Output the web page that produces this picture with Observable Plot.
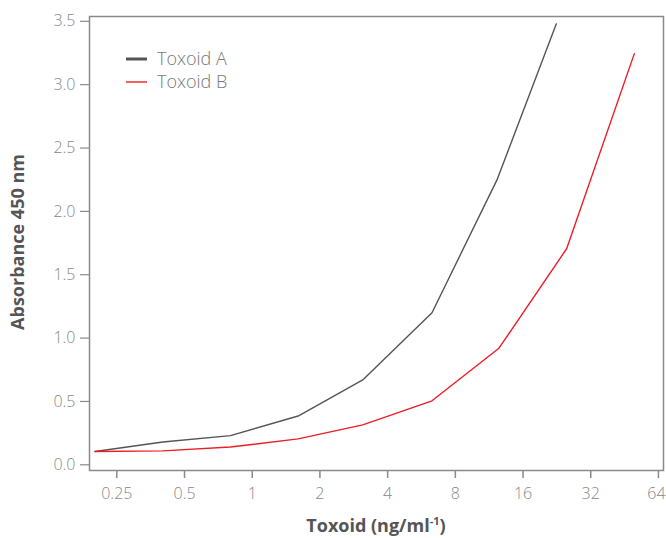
<!DOCTYPE html>
<html>
<head>
<meta charset="utf-8">
<script src="https://cdn.jsdelivr.net/npm/d3@7"></script>
<script src="https://cdn.jsdelivr.net/npm/@observablehq/plot@0.6"></script>
<style>
  html, body { margin: 0; padding: 0; background: #fff; }
  #chart svg { display: block; }
</style>
</head>
<body>
<div id="chart"></div>
<script>
const seriesNames = ["Toxoid A", "Toxoid B"];
const seriesColors = ["#555555", "#ee1c25"];
const concA = [0.2, 0.4, 0.8, 1.6, 3.1, 6.3, 12.3, 22.5];
const absA = [0.105, 0.18, 0.23, 0.385, 0.67, 1.2, 2.255, 3.48];
const concB = [0.2, 0.4, 0.8, 1.6, 3.1, 6.3, 12.5, 25, 50];
const absB = [0.105, 0.11, 0.14, 0.205, 0.315, 0.505, 0.92, 1.705, 3.245];
const xTicks = [0.25, 0.5, 1, 2, 4, 8, 16, 32, 64];
const xTickLabels = ["0.25", "0.5", "1", "2", "4", "8", "16", "32", "64"];
const yTicks = [0, 0.5, 1, 1.5, 2, 2.5, 3, 3.5];

const data = [
  ...concA.map((c, i) => ({series: seriesNames[0], x: c, y: absA[i]})),
  ...concB.map((c, i) => ({series: seriesNames[1], x: c, y: absB[i]}))
];

const font = "'Open Sans', 'Noto Sans', sans-serif";

const plot = Plot.plot({
  width: 666,
  height: 538,
  marginLeft: 89,
  marginRight: 3,
  marginTop: 16,
  marginBottom: 68,
  style: {fontFamily: font, background: "#fff"},
  x: {type: "log", base: 2, domain: [0.189, 67.4]},
  y: {domain: [-0.045, 3.538]},
  color: {domain: seriesNames, range: seriesColors},
  marks: [
    Plot.frame({stroke: "#8a8a8a", strokeWidth: 1.5}),
    Plot.axisX({
      ticks: xTicks,
      tickFormat: (d) => xTickLabels[xTicks.indexOf(d)],
      tickSize: 8,
      tickPadding: 9,
      stroke: "#8a8a8a",
      strokeWidth: 1.5,
      strokeOpacity: 1,
      fill: "#888",
      fontSize: 16,
      fontWeight: 300,
      label: null
    }),
    Plot.axisY({
      ticks: yTicks,
      tickFormat: d => d.toFixed(1),
      tickSize: 9,
      tickPadding: 5,
      stroke: "#8a8a8a",
      strokeWidth: 1.2,
      strokeOpacity: 1,
      fill: "#888",
      fontSize: 16,
      fontWeight: 300,
      label: null
    }),
    Plot.line(data, {x: "x", y: "y", z: "series", stroke: "series", strokeWidth: 1.4})
  ]
});

const svg = d3.select(plot);

// keep the last x tick label inside the window
svg.selectAll("text").filter(function () { return this.textContent === "64"; })
  .attr("dx", -2);

// x axis title with superscript
const xt = svg.append("text")
  .attr("x", 376).attr("y", 532)
  .attr("text-anchor", "middle")
  .attr("font-family", font)
  .attr("font-size", 18)
  .attr("font-weight", "bold")
  .attr("fill", "#555");
xt.append("tspan").text("Toxoid (ng/ml");
xt.append("tspan").attr("font-size", 11).attr("dy", -7).text("-1");
xt.append("tspan").attr("dy", 7).text(")");

// y axis title
svg.append("text")
  .attr("transform", "translate(24,242) rotate(-90)")
  .attr("text-anchor", "middle")
  .attr("font-family", font)
  .attr("font-size", 18)
  .attr("font-weight", "bold")
  .attr("fill", "#555")
  .text("Absorbance 450 nm");

// legend
const legendY = [59, 82];
const legendW = [3, 1.4];
seriesNames.forEach((name, i) => {
  svg.append("line")
    .attr("x1", 126).attr("x2", 147)
    .attr("y1", legendY[i]).attr("y2", legendY[i])
    .attr("stroke", seriesColors[i]).attr("stroke-width", legendW[i]);
  svg.append("text")
    .attr("x", 157).attr("y", legendY[i])
    .attr("dy", "0.35em")
    .attr("text-anchor", "start")
    .attr("font-family", font)
    .attr("font-size", 18)
    .attr("font-weight", 300)
    .attr("fill", "#777")
    .text(name);
});

document.getElementById("chart").appendChild(plot);
</script>
</body>
</html>
